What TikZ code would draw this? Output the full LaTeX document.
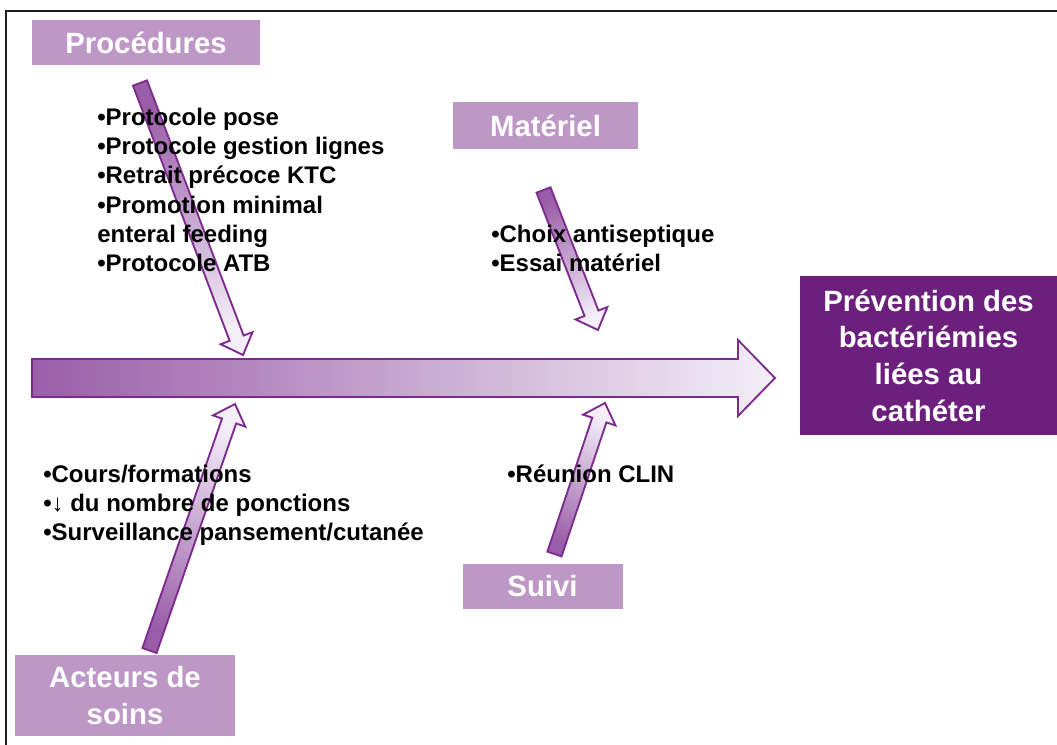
\documentclass[tikz,border=0pt]{standalone}
\usepackage{fontspec}
\setmainfont{Liberation Sans}
\usetikzlibrary{calc}

\definecolor{spinedeep}{HTML}{9A5EA8}
\definecolor{spinepale}{HTML}{F3EEF8}
\definecolor{spineedge}{HTML}{7D2B8F}
\definecolor{tagfill}{HTML}{BD97C6}
\definecolor{goalfill}{HTML}{6C1F7C}
\definecolor{framegray}{HTML}{1E1E1E}

% block arrow from a tail coordinate to a tip coordinate, shaded along its length
\newcommand\branch[3]{% #1 tail, #2 tip, #3 shading angle
  \coordinate (#2-base) at ($(#2)!13.5pt!(#1)$);
  \path[branchline, top color=spinedeep, bottom color=spinepale, shading angle=#3]
    ($(#1)!5.6pt!90:(#2)$)
    -- ($(#2-base)!5.6pt!-90:(#1)$)
    -- ($(#2-base)!12.8pt!-90:(#1)$)
    -- (#2)
    -- ($(#2-base)!12.8pt!90:(#1)$)
    -- ($(#2-base)!5.6pt!90:(#1)$)
    -- ($(#1)!5.6pt!-90:(#2)$)
    -- cycle;
}

\begin{document}
\begin{tikzpicture}[x=0.75pt, y=-0.75pt,
    branchline/.style={draw=spineedge, line width=1.4pt, line join=miter},
    tag/.style={fill=tagfill, text=white, inner sep=0pt, align=center,
      font=\bfseries\fontsize{22}{27.5}\selectfont},
    goal/.style={fill=goalfill, text=white, inner sep=0pt, align=center,
      font=\bfseries\fontsize{22}{27.5}\selectfont},
    items/.style={inner sep=0pt, align=left, text=black,
      font=\bfseries\fontsize{18}{22}\selectfont},
    frameline/.style={draw=framegray, line width=1.5pt}]

  \useasboundingbox (0,0) rectangle (1057,744);
  \clip (0,0) rectangle (1057,744);
  \fill[white] (0,0) rectangle (1057,744);
  \draw[frameline] (1070,11) -- (6,11) -- (6,760);

  % category labels and the outcome
  \node[tag, minimum width=171pt, minimum height=33.75pt] (proc) at (146,42.5) {Procédures};
  \node[tag, minimum width=138.75pt, minimum height=35.25pt] (mat) at (545.5,125.5) {Matériel};
  \node[tag, minimum width=120pt, minimum height=33.75pt] (suivi) at (542.5,586.5) {Suivi};
  \node[tag, minimum width=165pt, minimum height=60.75pt] (acteurs) at (125,695.5) {Acteurs de\\soins};
  \node[goal, minimum width=192.75pt, minimum height=119.25pt] (goal) at (928.5,355.5)
    {Prévention des\\bactériémies\\liées au\\cathéter};

  % main spine
  \coordinate (spine tail) at (32,378);
  \coordinate (spine tip) at (775,378);
  \path[branchline, left color=spinedeep, right color=spinepale]
    ($(spine tail)+(0,-19)$) -- ($(spine tip)+(-37,-19)$) -- ($(spine tip)+(-37,-38)$)
    -- (spine tip) -- ($(spine tip)+(-37,38)$) -- ($(spine tip)+(-37,19)$)
    -- ($(spine tail)+(0,19)$) -- cycle;

  % branches feeding the spine
  \coordinate (proc tail) at (140,83);
  \coordinate (proc tip) at (243,355);
  \coordinate (mat tail) at (543.5,190);
  \coordinate (mat tip) at (598,330);
  \coordinate (acteurs tail) at (149.5,650.5);
  \coordinate (acteurs tip) at (235,404);
  \coordinate (suivi tail) at (554.5,554);
  \coordinate (suivi tip) at (605,403);

  \branch{proc tail}{proc tip}{20.7}
  \branch{mat tail}{mat tip}{21.3}
  \branch{acteurs tail}{acteurs tip}{160.9}
  \branch{suivi tail}{suivi tip}{161.5}

  % lists of actions
  \node[items, anchor=north west] (proc list) at (97,107.5)
    {•Protocole pose\\•Protocole gestion lignes\\•Retrait précoce KTC\\•Promotion minimal\\enteral feeding\\•Protocole ATB};
  \node[items, anchor=north west] (mat list) at (491,224.5)
    {•Choix antiseptique\\•Essai matériel};
  \node[items, anchor=north west] (acteurs list) at (43,464.5)
    {•Cours/formations\\•↓ du nombre de ponctions\\•Surveillance pansement/cutanée};
  \node[items, anchor=base west] (suivi list) at (507,482) {•Réunion CLIN};
\end{tikzpicture}
\end{document}
